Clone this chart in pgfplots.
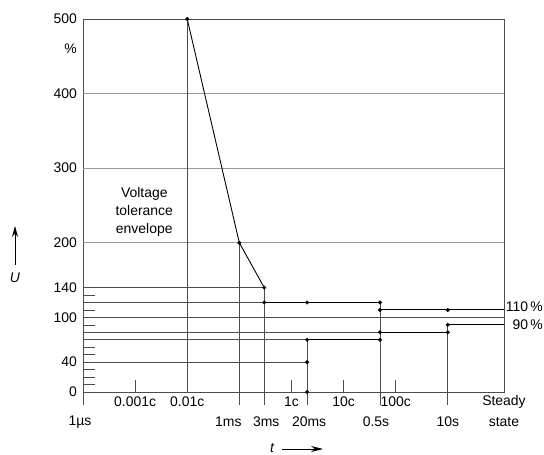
\documentclass[border=0pt]{standalone}
\usepackage{fontspec}
\setmainfont{Liberation Sans}
\usepackage{pgfplots}
\pgfplotsset{compat=1.18}
\usetikzlibrary{arrows.meta}
\newcommand{\chf}{\fontsize{14}{18}\selectfont}
\begin{document}
\chf
\begin{tikzpicture}[font=\chf]
\useasboundingbox (-83bp,-63bp) rectangle (461bp,392bp);
\begin{axis}[
  at={(0,0)}, anchor=south west, scale only axis,
  width=421bp, height=373bp,
  xmode=log, xmin=1e-6, xmax=120,
  ymin=0, ymax=500,
  clip=false,
  axis line style={black!70, line width=0.6pt},
  xtick=\empty, xminorticks=false,
  ytick={0,40,100,140,200,300,400,500},
  minor ytick={10,20,30,50,60,90,110,130},
  major tick length=0pt,
  minor tick length=12bp,
  tick align=inside,
  ytick pos=left,
  tick style={black!70, line width=0.6pt},
  yticklabel style={inner sep=0pt, xshift=-6bp, font=\chf},
  /pgf/number format/assume math mode=true,
  grid/.style={black!40, line width=0.6pt, forget plot},
  ln/.style={black!70, line width=0.6pt, forget plot},
  env/.style={black, line width=0.9pt, forget plot},
]
% light grid lines
\addplot[grid] coordinates {(1e-6,400) (120,400)};
\addplot[grid] coordinates {(1e-6,300) (120,300)};
\addplot[grid] coordinates {(1e-6,200) (120,200)};
% other horizontal lines
\addplot[ln] coordinates {(1e-6,140) (3e-3,140)};
\addplot[ln] coordinates {(1e-6,120) (3e-3,120)};
\addplot[ln] coordinates {(1e-6,100) (120,100)};
\addplot[ln] coordinates {(1e-6,80) (0.5,80)};
\addplot[ln] coordinates {(1e-6,70) (2e-2,70)};
\addplot[ln] coordinates {(1e-6,40) (2e-2,40)};
% vertical lines
\addplot[ln] coordinates {(1e-4,0) (1e-4,500)};
\addplot[ln] coordinates {(1e-6,0) (1e-6,-17)};
\addplot[ln] coordinates {(1e-3,200) (1e-3,-17)};
\addplot[ln] coordinates {(3e-3,140) (3e-3,-17)};
\addplot[ln] coordinates {(2e-2,70) (2e-2,-17)};
\addplot[ln] coordinates {(0.5,120) (0.5,-17)};
\addplot[ln] coordinates {(10,90) (10,-17)};
% small x ticks
\addplot[ln] coordinates {(1e-5,0) (1e-5,16)};
\addplot[ln] coordinates {(1e-2,0) (1e-2,16)};
\addplot[ln] coordinates {(1e-1,0) (1e-1,16)};
\addplot[ln] coordinates {(1,0) (1,16)};
% envelope
\addplot[env] coordinates {(1e-4,500) (1e-3,200) (3e-3,140)};
\addplot[env] coordinates {(3e-3,120) (0.5,120)};
\addplot[env] coordinates {(0.5,110) (120,110)};
\addplot[env] coordinates {(2e-2,70) (0.5,70)};
\addplot[env] coordinates {(0.5,80) (10,80)};
\addplot[env] coordinates {(10,90) (120,90)};
% dots
\addplot[only marks, mark=*, mark size=1.8bp, black] coordinates {
  (1e-4,500) (1e-3,200) (3e-3,140) (3e-3,120) (2e-2,120) (0.5,120)
  (0.5,110) (10,110) (10,90) (10,80) (0.5,80) (0.5,70) (2e-2,70)
  (2e-2,40) (2e-2,0)};
% y extra label
\node[anchor=east, inner sep=0pt, xshift=-6bp] at (axis cs:1e-6,460) {\%};
% x labels row 1
\node[yshift=-10bp] at (axis cs:1e-5,0) {0.001c};
\node[yshift=-10bp] at (axis cs:1e-4,0) {0.01c};
\node[yshift=-10bp] at (axis cs:1e-2,0) {1c};
\node[yshift=-10bp] at (axis cs:1e-1,0) {10c};
\node[yshift=-10bp] at (axis cs:1,0) {100c};
\node[yshift=-10bp] at (axis cs:120,0) {Steady};
% x labels row 2
\node[yshift=-30bp, xshift=-3bp] at (axis cs:1e-6,0) {1µs};
\node[yshift=-30bp, xshift=-11bp] at (axis cs:1e-3,0) {1ms};
\node[yshift=-30bp, xshift=2bp] at (axis cs:3e-3,0) {3ms};
\node[yshift=-30bp, xshift=2bp] at (axis cs:2e-2,0) {20ms};
\node[yshift=-30bp, xshift=-4bp] at (axis cs:0.5,0) {0.5s};
\node[yshift=-30bp] at (axis cs:10,0) {10s};
\node[yshift=-30bp] at (axis cs:120,0) {state};
% annotations
\node[align=center] at (axis cs:1.5e-5,241) {Voltage\\tolerance\\envelope};
\node[anchor=east, inner sep=0pt, xshift=39bp, yshift=3bp] at (axis cs:120,110) {110\,\%};
\node[anchor=east, inner sep=0pt, xshift=39bp] at (axis cs:120,90) {90\,\%};
\end{axis}
\node[inner sep=0pt] at (-68bp,114bp) {\itshape U};
\draw[black, line width=0.9pt, -{Stealth[length=11bp,width=6bp]}] (-68bp,127bp) -- (-68bp,166bp);
\node[inner sep=0pt] at (189bp,-56bp) {\itshape t};
\draw[black, line width=0.9pt, -{Stealth[length=12bp,width=6bp]}] (199bp,-57bp) -- (240bp,-57bp);
\end{tikzpicture}
\end{document}
